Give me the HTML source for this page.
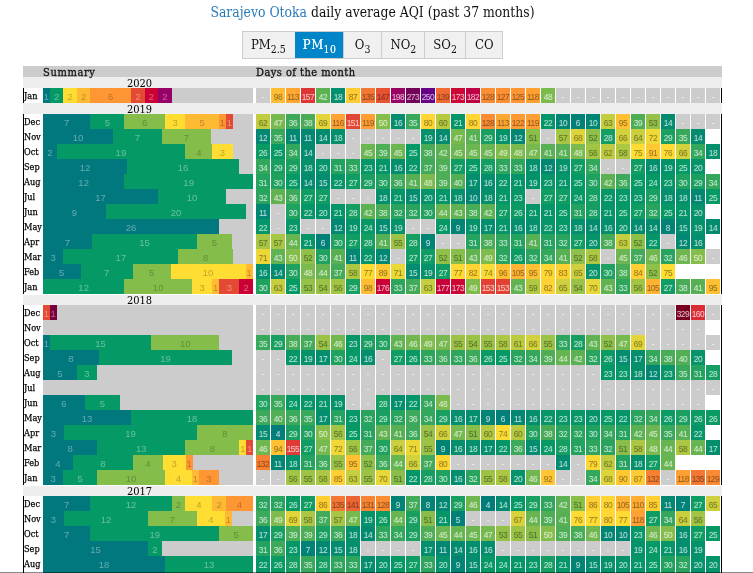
<!DOCTYPE html>
<html><head><meta charset="utf-8"><title>Sarajevo Otoka daily average AQI</title>
<style>
html,body{margin:0;padding:0;background:#fff;}
body{width:753px;height:573px;position:relative;overflow:hidden;font-family:"Liberation Sans",sans-serif;}
#t{position:absolute;left:0;top:2px;width:745.5px;text-align:center;font:14px/20px "DejaVu Serif","Liberation Serif",serif;color:#111;white-space:nowrap}
#t span{display:inline-block;transform:scaleX(.888);transform-origin:50% 50%}
#t a{color:#2a7ab8;text-decoration:none}
#tabs{position:absolute;left:242px;top:31px;height:26px;border:1px solid #ccc;border-left:none;display:flex;}
#tabs div{box-sizing:border-box;height:26px;border-left:1px solid #ccc;background:#f0f0f0;font:13px/25px "DejaVu Serif","Liberation Serif",serif;color:#111;text-align:center;white-space:nowrap}
#tabs div.on{background:#0086c8;border-left-color:#0086c8;color:#fff;letter-spacing:.5px;text-shadow:0 0 .6px rgba(255,255,255,.7)}
#tabs span{display:inline-block;transform:scaleX(.9);transform-origin:50% 50%}
#tabs sub{font-size:10.4px;line-height:0;vertical-align:-3.7px}
.hd{z-index:2;position:absolute;left:23px;top:66px;width:699px;height:11px;background:#ccc;}
.hd b{position:absolute;top:0;font:normal 11px/13px "DejaVu Serif","Liberation Serif",serif;letter-spacing:.5px;-webkit-text-stroke:.3px #111;color:#111;white-space:nowrap;transform:scaleX(.9);transform-origin:0 50%}
.yb{position:absolute;left:23px;width:699px;background:#eee;}
.yl{position:absolute;left:23.5px;width:231px;text-align:center;font:11px/11px "DejaVu Serif","Liberation Serif",serif;color:#000;transform:scaleX(.9);transform-origin:50% 50%}
.r{position:absolute;left:23px;width:699px;height:15px;}
.r i{position:absolute;left:0;top:0;width:1px;height:15px;background:#000}
.r u{position:absolute;left:698px;top:0;width:1px;height:15px;background:#000}
.r em{position:absolute;left:0.8px;top:0;font:normal 9.1px/17px "DejaVu Serif","Liberation Serif",serif;color:#000;-webkit-text-stroke:0.25px #000;transform:scaleX(.9);transform-origin:0 50%}
.s{position:absolute;left:20px;top:0;width:210px;height:15px;background:#ccc;overflow:hidden}
.s b{position:absolute;top:0;height:15px;font:normal 9.5px/18.6px "Liberation Sans",sans-serif;text-align:center;color:rgba(255,255,255,.38);overflow:hidden}
.s b.k{color:rgba(0,0,0,.27)}
.c{position:absolute;top:0;width:13.8px;height:15px;font:normal 8.4px/19.4px "Liberation Sans",sans-serif;text-align:center;color:rgba(255,255,255,.5);text-shadow:0 0 .7px rgba(255,255,255,.45);letter-spacing:-0.55px;overflow:hidden;white-space:nowrap}
.c.k{color:rgba(0,0,0,.27);text-shadow:0 0 .7px rgba(0,0,0,.24)}
.c.n{background:#ccc;color:rgba(255,255,255,.6)}
#bl{position:absolute;left:0;top:572px;width:753px;height:1px;background:rgba(0,0,0,.46);z-index:3}
.r.z,.r.z i,.r.z u,.r.z .s,.r.z .s b,.r.z .c{height:17px}
</style></head><body>
<div id="t"><span><a>Sarajevo Otoka</a> daily average AQI (past 37 months)</span></div>
<div id="tabs"><div style="width:52.5px"><span>PM<sub>2.5</sub></span></div><div class="on" style="width:48.3px"><span>PM<sub>10</sub></span></div><div style="width:38.7px"><span>O<sub>3</sub></span></div><div style="width:43px"><span>NO<sub>2</sub></span></div><div style="width:40.4px"><span>SO<sub>2</sub></span></div><div style="width:37.1px"><span>CO</span></div></div>
<div class="hd"><b style="left:20.2px;letter-spacing:.7px">Summary</b><b style="left:233px">Days of the month</b></div>

<div class="yb" style="top:77px;height:11px"></div><div class="yl" style="top:77.9px">2020</div>
<div class="r" style="top:88px"><i></i><u></u><em>Jan</em><div class="s"><b style="left:0.00px;width:6.77px;background:#00787e">1</b><b style="left:6.77px;width:13.55px;background:#059a65">2</b><b class="k" style="left:20.32px;width:13.55px;background:#ffdd33">2</b><b class="k" style="left:33.87px;width:13.55px;background:#ffba33">2</b><b class="k" style="left:47.42px;width:40.65px;background:#fe9633">6</b><b style="left:88.06px;width:13.55px;background:#e44933">2</b><b style="left:101.61px;width:13.55px;background:#ca0035">2</b><b style="left:115.16px;width:13.55px;background:#970068">2</b></div><div class="c n" style="left:233px">-</div><div class="c k" style="left:248px;background:#ffbd33">98</div><div class="c k" style="left:263px;background:#fea733">113</div><div class="c" style="left:278px;background:#dd3534">157</div><div class="c" style="left:293px;background:#5cb253">42</div><div class="c" style="left:308px;background:#04906c">18</div><div class="c k" style="left:323px;background:#ffcc33">87</div><div class="c k" style="left:338px;background:#f47733">135</div><div class="c k" style="left:353px;background:#e75233">147</div><div class="c" style="left:368px;background:#9b0064">198</div><div class="c" style="left:383px;background:#710058">273</div><div class="c" style="left:398px;background:#660085">250</div><div class="c k" style="left:413px;background:#ef6b33">139</div><div class="c" style="left:428px;background:#cc0635">173</div><div class="c" style="left:443px;background:#bc0043">182</div><div class="c k" style="left:458px;background:#fb8d33">128</div><div class="c k" style="left:473px;background:#fc9033">127</div><div class="c k" style="left:488px;background:#fe9633">125</div><div class="c k" style="left:503px;background:#fea033">118</div><div class="c" style="left:518px;background:#7bba4d">48</div><div class="c n" style="left:533px">-</div><div class="c n" style="left:548px">-</div><div class="c n" style="left:563px">-</div><div class="c n" style="left:578px">-</div><div class="c n" style="left:593px">-</div><div class="c n" style="left:608px">-</div><div class="c n" style="left:623px">-</div><div class="c n" style="left:638px">-</div><div class="c n" style="left:653px">-</div><div class="c n" style="left:668px">-</div><div class="c n" style="left:683px">-</div></div>
<div class="yb" style="top:103px;height:11px"></div><div class="yl" style="top:103.9px">2019</div>
<div class="r" style="top:114px"><i></i><u></u><em>Dec</em><div class="s"><b style="left:0.00px;width:47.42px;background:#00787e">7</b><b style="left:47.42px;width:33.87px;background:#059a65">5</b><b class="k" style="left:81.29px;width:40.65px;background:#85bd4b">6</b><b class="k" style="left:121.94px;width:20.32px;background:#ffdd33">3</b><b class="k" style="left:142.26px;width:33.87px;background:#ffba33">5</b><b class="k" style="left:176.13px;width:6.77px;background:#fe9633">1</b><b style="left:182.90px;width:6.77px;background:#e44933">1</b></div><div class="c k" style="left:233px;background:#c0cc3f">62</div><div class="c" style="left:248px;background:#76b94e">47</div><div class="c" style="left:263px;background:#3da95a">36</div><div class="c" style="left:278px;background:#48ac57">38</div><div class="c k" style="left:293px;background:#e2d539">69</div><div class="c k" style="left:308px;background:#fea333">116</div><div class="c" style="left:323px;background:#e34633">151</div><div class="c k" style="left:338px;background:#fe9f33">119</div><div class="c" style="left:353px;background:#85bd4b">50</div><div class="c" style="left:368px;background:#038e6e">16</div><div class="c" style="left:383px;background:#38a85b">35</div><div class="c k" style="left:398px;background:#ffd633">80</div><div class="c k" style="left:413px;background:#b6ca41">60</div><div class="c" style="left:428px;background:#049569">21</div><div class="c k" style="left:443px;background:#ffd633">80</div><div class="c k" style="left:458px;background:#fb8d33">128</div><div class="c k" style="left:473px;background:#fea733">113</div><div class="c k" style="left:488px;background:#fe9a33">122</div><div class="c k" style="left:503px;background:#fe9f33">119</div><div class="c" style="left:518px;background:#049668">22</div><div class="c" style="left:533px;background:#028674">10</div><div class="c" style="left:548px;background:#018078">6</div><div class="c" style="left:563px;background:#028674">10</div><div class="c k" style="left:578px;background:#c4ce3f">63</div><div class="c k" style="left:593px;background:#ffc133">95</div><div class="c" style="left:608px;background:#4dae56">39</div><div class="c k" style="left:623px;background:#94c148">53</div><div class="c" style="left:638px;background:#038b70">14</div><div class="c n" style="left:653px">-</div><div class="c n" style="left:668px">-</div><div class="c n" style="left:683px">-</div></div>
<div class="r" style="top:129px"><i></i><u></u><em>Nov</em><div class="s"><b style="left:0.00px;width:70.00px;background:#00787e">10</b><b style="left:70.00px;width:49.00px;background:#059a65">7</b><b class="k" style="left:119.00px;width:49.00px;background:#85bd4b">7</b></div><div class="c" style="left:233px;background:#028872">12</div><div class="c" style="left:248px;background:#38a85b">35</div><div class="c" style="left:263px;background:#028773">11</div><div class="c" style="left:278px;background:#028773">11</div><div class="c" style="left:293px;background:#038b70">14</div><div class="c" style="left:308px;background:#04906c">18</div><div class="c n" style="left:323px">-</div><div class="c n" style="left:338px">-</div><div class="c n" style="left:353px">-</div><div class="c n" style="left:368px">-</div><div class="c n" style="left:383px">-</div><div class="c" style="left:398px;background:#04926b">19</div><div class="c" style="left:413px;background:#038b70">14</div><div class="c" style="left:428px;background:#76b94e">47</div><div class="c" style="left:443px;background:#57b054">41</div><div class="c" style="left:458px;background:#19a061">29</div><div class="c" style="left:473px;background:#04926b">19</div><div class="c" style="left:488px;background:#028872">12</div><div class="c k" style="left:503px;background:#8abe4a">51</div><div class="c n" style="left:518px">-</div><div class="c k" style="left:533px;background:#a7c644">57</div><div class="c k" style="left:548px;background:#ddd43a">68</div><div class="c k" style="left:563px;background:#8fc049">52</div><div class="c" style="left:578px;background:#149e62">28</div><div class="c k" style="left:593px;background:#d3d13c">66</div><div class="c k" style="left:608px;background:#c9cf3e">64</div><div class="c k" style="left:623px;background:#f0d936">72</div><div class="c" style="left:638px;background:#19a061">29</div><div class="c" style="left:653px;background:#38a85b">35</div><div class="c" style="left:668px;background:#038b70">14</div></div>
<div class="r" style="top:144px"><i></i><u></u><em>Oct</em><div class="s"><b style="left:0.00px;width:13.55px;background:#00787e">2</b><b style="left:13.55px;width:128.71px;background:#059a65">19</b><b class="k" style="left:142.26px;width:27.10px;background:#85bd4b">4</b><b class="k" style="left:169.35px;width:20.32px;background:#ffdd33">3</b></div><div class="c" style="left:233px;background:#0a9b64">26</div><div class="c" style="left:248px;background:#059a65">25</div><div class="c" style="left:263px;background:#33a75c">34</div><div class="c" style="left:278px;background:#038b70">14</div><div class="c n" style="left:293px">-</div><div class="c n" style="left:308px">-</div><div class="c n" style="left:323px">-</div><div class="c" style="left:338px;background:#6bb650">45</div><div class="c" style="left:353px;background:#4dae56">39</div><div class="c" style="left:368px;background:#6bb650">45</div><div class="c" style="left:383px;background:#059a65">25</div><div class="c" style="left:398px;background:#48ac57">38</div><div class="c" style="left:413px;background:#5cb253">42</div><div class="c" style="left:428px;background:#6bb650">45</div><div class="c" style="left:443px;background:#6bb650">45</div><div class="c" style="left:458px;background:#6bb650">45</div><div class="c" style="left:473px;background:#80bc4c">49</div><div class="c" style="left:488px;background:#7bba4d">48</div><div class="c" style="left:503px;background:#76b94e">47</div><div class="c" style="left:518px;background:#57b054">41</div><div class="c" style="left:533px;background:#57b054">41</div><div class="c" style="left:548px;background:#7bba4d">48</div><div class="c k" style="left:563px;background:#a2c545">56</div><div class="c k" style="left:578px;background:#c0cc3f">62</div><div class="c k" style="left:593px;background:#acc743">58</div><div class="c k" style="left:608px;background:#ffdd33">75</div><div class="c k" style="left:623px;background:#ffc733">91</div><div class="c k" style="left:638px;background:#ffdc33">76</div><div class="c k" style="left:653px;background:#d3d13c">66</div><div class="c" style="left:668px;background:#33a75c">34</div><div class="c" style="left:683px;background:#04906c">18</div></div>
<div class="r" style="top:159px"><i></i><u></u><em>Sep</em><div class="s"><b style="left:0.00px;width:84.00px;background:#00787e">12</b><b style="left:84.00px;width:112.00px;background:#059a65">16</b></div><div class="c" style="left:233px;background:#33a75c">34</div><div class="c" style="left:248px;background:#19a061">29</div><div class="c" style="left:263px;background:#19a061">29</div><div class="c" style="left:278px;background:#04906c">18</div><div class="c" style="left:293px;background:#04936a">20</div><div class="c" style="left:308px;background:#24a25f">31</div><div class="c" style="left:323px;background:#2ea55d">33</div><div class="c" style="left:338px;background:#059767">23</div><div class="c" style="left:353px;background:#049569">21</div><div class="c" style="left:368px;background:#038e6e">16</div><div class="c" style="left:383px;background:#049668">22</div><div class="c" style="left:398px;background:#42ab59">37</div><div class="c" style="left:413px;background:#4dae56">39</div><div class="c" style="left:428px;background:#0f9d63">27</div><div class="c" style="left:443px;background:#059a65">25</div><div class="c" style="left:458px;background:#149e62">28</div><div class="c" style="left:473px;background:#2ea55d">33</div><div class="c" style="left:488px;background:#2ea55d">33</div><div class="c" style="left:503px;background:#04906c">18</div><div class="c" style="left:518px;background:#028872">12</div><div class="c" style="left:533px;background:#04926b">19</div><div class="c" style="left:548px;background:#0f9d63">27</div><div class="c" style="left:563px;background:#33a75c">34</div><div class="c n" style="left:578px">-</div><div class="c n" style="left:593px">-</div><div class="c" style="left:608px;background:#0f9d63">27</div><div class="c" style="left:623px;background:#038e6e">16</div><div class="c" style="left:638px;background:#04926b">19</div><div class="c" style="left:653px;background:#059a65">25</div><div class="c" style="left:668px;background:#04936a">20</div></div>
<div class="r" style="top:174px"><i></i><u></u><em>Aug</em><div class="s"><b style="left:0.00px;width:81.29px;background:#00787e">12</b><b style="left:81.29px;width:128.71px;background:#059a65">19</b></div><div class="c" style="left:233px;background:#24a25f">31</div><div class="c" style="left:248px;background:#1fa160">30</div><div class="c" style="left:263px;background:#059a65">25</div><div class="c" style="left:278px;background:#038b70">14</div><div class="c" style="left:293px;background:#038c6f">15</div><div class="c" style="left:308px;background:#049668">22</div><div class="c" style="left:323px;background:#0f9d63">27</div><div class="c" style="left:338px;background:#19a061">29</div><div class="c" style="left:353px;background:#1fa160">30</div><div class="c" style="left:368px;background:#3da95a">36</div><div class="c" style="left:383px;background:#57b054">41</div><div class="c" style="left:398px;background:#7bba4d">48</div><div class="c" style="left:413px;background:#4dae56">39</div><div class="c" style="left:428px;background:#52af55">40</div><div class="c" style="left:443px;background:#038f6d">17</div><div class="c" style="left:458px;background:#038e6e">16</div><div class="c" style="left:473px;background:#049668">22</div><div class="c" style="left:488px;background:#049569">21</div><div class="c" style="left:503px;background:#04926b">19</div><div class="c" style="left:518px;background:#059767">23</div><div class="c" style="left:533px;background:#049569">21</div><div class="c" style="left:548px;background:#059a65">25</div><div class="c" style="left:563px;background:#1fa160">30</div><div class="c" style="left:578px;background:#5cb253">42</div><div class="c" style="left:593px;background:#3da95a">36</div><div class="c" style="left:608px;background:#059a65">25</div><div class="c" style="left:623px;background:#059966">24</div><div class="c" style="left:638px;background:#059767">23</div><div class="c" style="left:653px;background:#1fa160">30</div><div class="c" style="left:668px;background:#19a061">29</div><div class="c" style="left:683px;background:#33a75c">34</div></div>
<div class="r" style="top:189px"><i></i><u></u><em>Jul</em><div class="s"><b style="left:0.00px;width:115.16px;background:#00787e">17</b><b style="left:115.16px;width:67.74px;background:#059a65">10</b></div><div class="c" style="left:233px;background:#29a45e">32</div><div class="c" style="left:248px;background:#61b352">43</div><div class="c" style="left:263px;background:#3da95a">36</div><div class="c" style="left:278px;background:#0f9d63">27</div><div class="c" style="left:293px;background:#0f9d63">27</div><div class="c n" style="left:308px">-</div><div class="c n" style="left:323px">-</div><div class="c n" style="left:338px">-</div><div class="c" style="left:353px;background:#04906c">18</div><div class="c" style="left:368px;background:#049569">21</div><div class="c" style="left:383px;background:#038c6f">15</div><div class="c" style="left:398px;background:#04936a">20</div><div class="c" style="left:413px;background:#049569">21</div><div class="c" style="left:428px;background:#04906c">18</div><div class="c" style="left:443px;background:#028674">10</div><div class="c" style="left:458px;background:#04906c">18</div><div class="c" style="left:473px;background:#049569">21</div><div class="c" style="left:488px;background:#059767">23</div><div class="c n" style="left:503px">-</div><div class="c" style="left:518px;background:#0f9d63">27</div><div class="c" style="left:533px;background:#0f9d63">27</div><div class="c" style="left:548px;background:#059966">24</div><div class="c" style="left:563px;background:#149e62">28</div><div class="c" style="left:578px;background:#049668">22</div><div class="c" style="left:593px;background:#059767">23</div><div class="c" style="left:608px;background:#059767">23</div><div class="c" style="left:623px;background:#19a061">29</div><div class="c" style="left:638px;background:#04906c">18</div><div class="c" style="left:653px;background:#04906c">18</div><div class="c" style="left:668px;background:#028773">11</div><div class="c" style="left:683px;background:#059a65">25</div></div>
<div class="r" style="top:204px"><i></i><u></u><em>Jun</em><div class="s"><b style="left:0.00px;width:63.00px;background:#00787e">9</b><b style="left:63.00px;width:140.00px;background:#059a65">20</b></div><div class="c" style="left:233px;background:#028773">11</div><div class="c n" style="left:248px">-</div><div class="c" style="left:263px;background:#1fa160">30</div><div class="c" style="left:278px;background:#049668">22</div><div class="c" style="left:293px;background:#04936a">20</div><div class="c" style="left:308px;background:#049569">21</div><div class="c" style="left:323px;background:#149e62">28</div><div class="c" style="left:338px;background:#5cb253">42</div><div class="c" style="left:353px;background:#48ac57">38</div><div class="c" style="left:368px;background:#29a45e">32</div><div class="c" style="left:383px;background:#29a45e">32</div><div class="c" style="left:398px;background:#1fa160">30</div><div class="c" style="left:413px;background:#66b551">44</div><div class="c" style="left:428px;background:#61b352">43</div><div class="c" style="left:443px;background:#48ac57">38</div><div class="c" style="left:458px;background:#5cb253">42</div><div class="c" style="left:473px;background:#0f9d63">27</div><div class="c" style="left:488px;background:#0a9b64">26</div><div class="c" style="left:503px;background:#049569">21</div><div class="c" style="left:518px;background:#049569">21</div><div class="c" style="left:533px;background:#059a65">25</div><div class="c" style="left:548px;background:#24a25f">31</div><div class="c" style="left:563px;background:#149e62">28</div><div class="c" style="left:578px;background:#049569">21</div><div class="c" style="left:593px;background:#059a65">25</div><div class="c" style="left:608px;background:#0f9d63">27</div><div class="c" style="left:623px;background:#29a45e">32</div><div class="c" style="left:638px;background:#059a65">25</div><div class="c" style="left:653px;background:#049569">21</div><div class="c" style="left:668px;background:#04936a">20</div></div>
<div class="r" style="top:219px"><i></i><u></u><em>May</em><div class="s"><b style="left:0.00px;width:176.13px;background:#00787e">26</b></div><div class="c" style="left:233px;background:#049668">22</div><div class="c n" style="left:248px">-</div><div class="c" style="left:263px;background:#059767">23</div><div class="c n" style="left:278px">-</div><div class="c n" style="left:293px">-</div><div class="c" style="left:308px;background:#028872">12</div><div class="c" style="left:323px;background:#04926b">19</div><div class="c" style="left:338px;background:#059966">24</div><div class="c" style="left:353px;background:#038c6f">15</div><div class="c" style="left:368px;background:#04926b">19</div><div class="c n" style="left:383px">-</div><div class="c n" style="left:398px">-</div><div class="c" style="left:413px;background:#059966">24</div><div class="c" style="left:428px;background:#028475">9</div><div class="c" style="left:443px;background:#04926b">19</div><div class="c" style="left:458px;background:#038f6d">17</div><div class="c" style="left:473px;background:#049569">21</div><div class="c" style="left:488px;background:#038e6e">16</div><div class="c" style="left:503px;background:#04906c">18</div><div class="c" style="left:518px;background:#049668">22</div><div class="c" style="left:533px;background:#059767">23</div><div class="c" style="left:548px;background:#04906c">18</div><div class="c" style="left:563px;background:#038b70">14</div><div class="c" style="left:578px;background:#038e6e">16</div><div class="c" style="left:593px;background:#04936a">20</div><div class="c" style="left:608px;background:#038b70">14</div><div class="c" style="left:623px;background:#038b70">14</div><div class="c" style="left:638px;background:#028376">8</div><div class="c" style="left:653px;background:#038c6f">15</div><div class="c" style="left:668px;background:#04926b">19</div><div class="c" style="left:683px;background:#038b70">14</div></div>
<div class="r" style="top:234px"><i></i><u></u><em>Apr</em><div class="s"><b style="left:0.00px;width:49.00px;background:#00787e">7</b><b style="left:49.00px;width:105.00px;background:#059a65">15</b><b class="k" style="left:154.00px;width:35.00px;background:#85bd4b">5</b></div><div class="c k" style="left:233px;background:#a7c644">57</div><div class="c k" style="left:248px;background:#a7c644">57</div><div class="c" style="left:263px;background:#66b551">44</div><div class="c" style="left:278px;background:#049569">21</div><div class="c" style="left:293px;background:#018078">6</div><div class="c" style="left:308px;background:#1fa160">30</div><div class="c" style="left:323px;background:#0f9d63">27</div><div class="c" style="left:338px;background:#149e62">28</div><div class="c" style="left:353px;background:#57b054">41</div><div class="c k" style="left:368px;background:#9dc346">55</div><div class="c" style="left:383px;background:#149e62">28</div><div class="c" style="left:398px;background:#028475">9</div><div class="c n" style="left:413px">-</div><div class="c n" style="left:428px">-</div><div class="c" style="left:443px;background:#24a25f">31</div><div class="c" style="left:458px;background:#48ac57">38</div><div class="c" style="left:473px;background:#2ea55d">33</div><div class="c" style="left:488px;background:#24a25f">31</div><div class="c" style="left:503px;background:#57b054">41</div><div class="c" style="left:518px;background:#24a25f">31</div><div class="c" style="left:533px;background:#29a45e">32</div><div class="c" style="left:548px;background:#0f9d63">27</div><div class="c" style="left:563px;background:#04936a">20</div><div class="c" style="left:578px;background:#48ac57">38</div><div class="c k" style="left:593px;background:#c4ce3f">63</div><div class="c k" style="left:608px;background:#8fc049">52</div><div class="c" style="left:623px;background:#049668">22</div><div class="c n" style="left:638px">-</div><div class="c" style="left:653px;background:#028872">12</div><div class="c" style="left:668px;background:#038e6e">16</div></div>
<div class="r" style="top:249px"><i></i><u></u><em>Mar</em><div class="s"><b style="left:0.00px;width:20.32px;background:#00787e">3</b><b style="left:20.32px;width:115.16px;background:#059a65">17</b><b class="k" style="left:135.48px;width:54.19px;background:#85bd4b">8</b></div><div class="c k" style="left:233px;background:#ebd837">71</div><div class="c" style="left:248px;background:#61b352">43</div><div class="c" style="left:263px;background:#85bd4b">50</div><div class="c k" style="left:278px;background:#8fc049">52</div><div class="c" style="left:293px;background:#1fa160">30</div><div class="c" style="left:308px;background:#57b054">41</div><div class="c" style="left:323px;background:#028773">11</div><div class="c" style="left:338px;background:#049668">22</div><div class="c" style="left:353px;background:#028872">12</div><div class="c n" style="left:368px">-</div><div class="c" style="left:383px;background:#0f9d63">27</div><div class="c" style="left:398px;background:#0f9d63">27</div><div class="c k" style="left:413px;background:#8fc049">52</div><div class="c k" style="left:428px;background:#8abe4a">51</div><div class="c" style="left:443px;background:#61b352">43</div><div class="c" style="left:458px;background:#80bc4c">49</div><div class="c" style="left:473px;background:#29a45e">32</div><div class="c" style="left:488px;background:#0a9b64">26</div><div class="c" style="left:503px;background:#29a45e">32</div><div class="c" style="left:518px;background:#33a75c">34</div><div class="c" style="left:533px;background:#57b054">41</div><div class="c k" style="left:548px;background:#8fc049">52</div><div class="c k" style="left:563px;background:#acc743">58</div><div class="c n" style="left:578px">-</div><div class="c" style="left:593px;background:#6bb650">45</div><div class="c" style="left:608px;background:#42ab59">37</div><div class="c" style="left:623px;background:#71b74f">46</div><div class="c" style="left:638px;background:#29a45e">32</div><div class="c" style="left:653px;background:#71b74f">46</div><div class="c" style="left:668px;background:#85bd4b">50</div><div class="c n" style="left:683px">-</div></div>
<div class="r" style="top:264px"><i></i><u></u><em>Feb</em><div class="s"><b style="left:0.00px;width:37.50px;background:#00787e">5</b><b style="left:37.50px;width:52.50px;background:#059a65">7</b><b class="k" style="left:90.00px;width:37.50px;background:#85bd4b">5</b><b class="k" style="left:127.50px;width:75.00px;background:#ffdd33">10</b><b class="k" style="left:202.50px;width:7.50px;background:#ffba33">1</b></div><div class="c" style="left:233px;background:#038e6e">16</div><div class="c" style="left:248px;background:#038b70">14</div><div class="c" style="left:263px;background:#1fa160">30</div><div class="c" style="left:278px;background:#7bba4d">48</div><div class="c" style="left:293px;background:#66b551">44</div><div class="c" style="left:308px;background:#42ab59">37</div><div class="c k" style="left:323px;background:#acc743">58</div><div class="c k" style="left:338px;background:#ffda33">77</div><div class="c k" style="left:353px;background:#ffc933">89</div><div class="c k" style="left:368px;background:#ebd837">71</div><div class="c" style="left:383px;background:#038c6f">15</div><div class="c" style="left:398px;background:#04926b">19</div><div class="c" style="left:413px;background:#0f9d63">27</div><div class="c k" style="left:428px;background:#ffda33">77</div><div class="c k" style="left:443px;background:#ffd333">82</div><div class="c k" style="left:458px;background:#fadc34">74</div><div class="c k" style="left:473px;background:#ffc033">96</div><div class="c k" style="left:488px;background:#ffb333">105</div><div class="c k" style="left:503px;background:#ffc133">95</div><div class="c k" style="left:518px;background:#ffd733">79</div><div class="c k" style="left:533px;background:#ffd233">83</div><div class="c k" style="left:548px;background:#ced03d">65</div><div class="c" style="left:563px;background:#04936a">20</div><div class="c" style="left:578px;background:#1fa160">30</div><div class="c" style="left:593px;background:#48ac57">38</div><div class="c k" style="left:608px;background:#ffd033">84</div><div class="c k" style="left:623px;background:#8fc049">52</div><div class="c k" style="left:638px;background:#ffdd33">75</div></div>
<div class="r" style="top:279px"><i></i><u></u><em>Jan</em><div class="s"><b style="left:0.00px;width:81.29px;background:#059a65">12</b><b class="k" style="left:81.29px;width:67.74px;background:#85bd4b">10</b><b class="k" style="left:149.03px;width:20.32px;background:#ffdd33">3</b><b class="k" style="left:169.35px;width:6.77px;background:#ffba33">1</b><b style="left:176.13px;width:20.32px;background:#e44933">3</b><b style="left:196.45px;width:13.55px;background:#ca0035">2</b></div><div class="c" style="left:233px;background:#1fa160">30</div><div class="c k" style="left:248px;background:#c4ce3f">63</div><div class="c" style="left:263px;background:#059a65">25</div><div class="c k" style="left:278px;background:#94c148">53</div><div class="c k" style="left:293px;background:#99c247">54</div><div class="c k" style="left:308px;background:#a2c545">56</div><div class="c" style="left:323px;background:#19a061">29</div><div class="c k" style="left:338px;background:#ffbd33">98</div><div class="c" style="left:353px;background:#c80037">176</div><div class="c" style="left:368px;background:#2ea55d">33</div><div class="c" style="left:383px;background:#42ab59">37</div><div class="c k" style="left:398px;background:#c4ce3f">63</div><div class="c" style="left:413px;background:#c60039">177</div><div class="c" style="left:428px;background:#cc0635">173</div><div class="c" style="left:443px;background:#80bc4c">49</div><div class="c" style="left:458px;background:#e14033">153</div><div class="c" style="left:473px;background:#e14033">153</div><div class="c" style="left:488px;background:#61b352">43</div><div class="c k" style="left:503px;background:#b1c942">59</div><div class="c k" style="left:518px;background:#ffd333">82</div><div class="c k" style="left:533px;background:#ced03d">65</div><div class="c k" style="left:548px;background:#99c247">54</div><div class="c k" style="left:563px;background:#e7d738">70</div><div class="c" style="left:578px;background:#61b352">43</div><div class="c" style="left:593px;background:#2ea55d">33</div><div class="c k" style="left:608px;background:#a2c545">56</div><div class="c k" style="left:623px;background:#ffb333">105</div><div class="c" style="left:638px;background:#0f9d63">27</div><div class="c" style="left:653px;background:#48ac57">38</div><div class="c" style="left:668px;background:#57b054">41</div><div class="c k" style="left:683px;background:#ffc133">95</div></div>
<div class="yb" style="top:294.8px;height:9.9px"></div><div class="yl" style="top:294.9px">2018</div>
<div class="r" style="top:305px"><i></i><u></u><em>Dec</em><div class="s"><b style="left:0.00px;width:6.77px;background:#e44933">1</b><b style="left:6.77px;width:6.77px;background:#78003f">1</b></div><div class="c n" style="left:233px">-</div><div class="c n" style="left:248px">-</div><div class="c n" style="left:263px">-</div><div class="c n" style="left:278px">-</div><div class="c n" style="left:293px">-</div><div class="c n" style="left:308px">-</div><div class="c n" style="left:323px">-</div><div class="c n" style="left:338px">-</div><div class="c n" style="left:353px">-</div><div class="c n" style="left:368px">-</div><div class="c n" style="left:383px">-</div><div class="c n" style="left:398px">-</div><div class="c n" style="left:413px">-</div><div class="c n" style="left:428px">-</div><div class="c n" style="left:443px">-</div><div class="c n" style="left:458px">-</div><div class="c n" style="left:473px">-</div><div class="c n" style="left:488px">-</div><div class="c n" style="left:503px">-</div><div class="c n" style="left:518px">-</div><div class="c n" style="left:533px">-</div><div class="c n" style="left:548px">-</div><div class="c n" style="left:563px">-</div><div class="c n" style="left:578px">-</div><div class="c n" style="left:593px">-</div><div class="c n" style="left:608px">-</div><div class="c n" style="left:623px">-</div><div class="c n" style="left:638px">-</div><div class="c" style="left:653px;background:#780021">329</div><div class="c" style="left:668px;background:#da2c34">160</div><div class="c n" style="left:683px">-</div></div>
<div class="r" style="top:320px"><i></i><u></u><em>Nov</em><div class="s"></div><div class="c n" style="left:233px">-</div><div class="c n" style="left:248px">-</div><div class="c n" style="left:263px">-</div><div class="c n" style="left:278px">-</div><div class="c n" style="left:293px">-</div><div class="c n" style="left:308px">-</div><div class="c n" style="left:323px">-</div><div class="c n" style="left:338px">-</div><div class="c n" style="left:353px">-</div><div class="c n" style="left:368px">-</div><div class="c n" style="left:383px">-</div><div class="c n" style="left:398px">-</div><div class="c n" style="left:413px">-</div><div class="c n" style="left:428px">-</div><div class="c n" style="left:443px">-</div><div class="c n" style="left:458px">-</div><div class="c n" style="left:473px">-</div><div class="c n" style="left:488px">-</div><div class="c n" style="left:503px">-</div><div class="c n" style="left:518px">-</div><div class="c n" style="left:533px">-</div><div class="c n" style="left:548px">-</div><div class="c n" style="left:563px">-</div><div class="c n" style="left:578px">-</div><div class="c n" style="left:593px">-</div><div class="c n" style="left:608px">-</div><div class="c n" style="left:623px">-</div><div class="c n" style="left:638px">-</div><div class="c n" style="left:653px">-</div><div class="c n" style="left:668px">-</div></div>
<div class="r" style="top:335px"><i></i><u></u><em>Oct</em><div class="s"><b style="left:0.00px;width:6.77px;background:#00787e">1</b><b style="left:6.77px;width:101.61px;background:#059a65">15</b><b class="k" style="left:108.39px;width:67.74px;background:#85bd4b">10</b></div><div class="c" style="left:233px;background:#38a85b">35</div><div class="c" style="left:248px;background:#19a061">29</div><div class="c" style="left:263px;background:#48ac57">38</div><div class="c" style="left:278px;background:#42ab59">37</div><div class="c k" style="left:293px;background:#99c247">54</div><div class="c" style="left:308px;background:#71b74f">46</div><div class="c" style="left:323px;background:#059767">23</div><div class="c" style="left:338px;background:#19a061">29</div><div class="c" style="left:353px;background:#1fa160">30</div><div class="c" style="left:368px;background:#61b352">43</div><div class="c" style="left:383px;background:#71b74f">46</div><div class="c" style="left:398px;background:#80bc4c">49</div><div class="c" style="left:413px;background:#76b94e">47</div><div class="c k" style="left:428px;background:#9dc346">55</div><div class="c k" style="left:443px;background:#99c247">54</div><div class="c k" style="left:458px;background:#9dc346">55</div><div class="c k" style="left:473px;background:#acc743">58</div><div class="c k" style="left:488px;background:#bbcb40">61</div><div class="c k" style="left:503px;background:#d3d13c">66</div><div class="c k" style="left:518px;background:#9dc346">55</div><div class="c" style="left:533px;background:#2ea55d">33</div><div class="c" style="left:548px;background:#149e62">28</div><div class="c" style="left:563px;background:#61b352">43</div><div class="c k" style="left:578px;background:#8fc049">52</div><div class="c" style="left:593px;background:#76b94e">47</div><div class="c k" style="left:608px;background:#e2d539">69</div><div class="c n" style="left:623px">-</div><div class="c n" style="left:638px">-</div><div class="c n" style="left:653px">-</div><div class="c n" style="left:668px">-</div><div class="c n" style="left:683px">-</div></div>
<div class="r" style="top:350px"><i></i><u></u><em>Sep</em><div class="s"><b style="left:0.00px;width:56.00px;background:#00787e">8</b><b style="left:56.00px;width:133.00px;background:#059a65">19</b></div><div class="c n" style="left:233px">-</div><div class="c n" style="left:248px">-</div><div class="c" style="left:263px;background:#049668">22</div><div class="c" style="left:278px;background:#04926b">19</div><div class="c" style="left:293px;background:#038f6d">17</div><div class="c" style="left:308px;background:#1fa160">30</div><div class="c" style="left:323px;background:#059966">24</div><div class="c" style="left:338px;background:#038e6e">16</div><div class="c n" style="left:353px">-</div><div class="c" style="left:368px;background:#0f9d63">27</div><div class="c" style="left:383px;background:#0a9b64">26</div><div class="c" style="left:398px;background:#2ea55d">33</div><div class="c" style="left:413px;background:#3da95a">36</div><div class="c" style="left:428px;background:#2ea55d">33</div><div class="c" style="left:443px;background:#3da95a">36</div><div class="c" style="left:458px;background:#0a9b64">26</div><div class="c" style="left:473px;background:#059a65">25</div><div class="c" style="left:488px;background:#29a45e">32</div><div class="c" style="left:503px;background:#33a75c">34</div><div class="c" style="left:518px;background:#4dae56">39</div><div class="c" style="left:533px;background:#66b551">44</div><div class="c" style="left:548px;background:#5cb253">42</div><div class="c" style="left:563px;background:#29a45e">32</div><div class="c" style="left:578px;background:#0a9b64">26</div><div class="c" style="left:593px;background:#038c6f">15</div><div class="c" style="left:608px;background:#038f6d">17</div><div class="c" style="left:623px;background:#33a75c">34</div><div class="c" style="left:638px;background:#48ac57">38</div><div class="c" style="left:653px;background:#52af55">40</div><div class="c" style="left:668px;background:#04936a">20</div></div>
<div class="r" style="top:365px"><i></i><u></u><em>Aug</em><div class="s"><b style="left:0.00px;width:33.87px;background:#00787e">5</b><b style="left:33.87px;width:20.32px;background:#059a65">3</b></div><div class="c n" style="left:233px">-</div><div class="c n" style="left:248px">-</div><div class="c n" style="left:263px">-</div><div class="c n" style="left:278px">-</div><div class="c n" style="left:293px">-</div><div class="c n" style="left:308px">-</div><div class="c n" style="left:323px">-</div><div class="c n" style="left:338px">-</div><div class="c n" style="left:353px">-</div><div class="c n" style="left:368px">-</div><div class="c n" style="left:383px">-</div><div class="c n" style="left:398px">-</div><div class="c n" style="left:413px">-</div><div class="c n" style="left:428px">-</div><div class="c n" style="left:443px">-</div><div class="c n" style="left:458px">-</div><div class="c n" style="left:473px">-</div><div class="c n" style="left:488px">-</div><div class="c n" style="left:503px">-</div><div class="c n" style="left:518px">-</div><div class="c n" style="left:533px">-</div><div class="c n" style="left:548px">-</div><div class="c n" style="left:563px">-</div><div class="c" style="left:578px;background:#059767">23</div><div class="c" style="left:593px;background:#059767">23</div><div class="c" style="left:608px;background:#04906c">18</div><div class="c" style="left:623px;background:#028872">12</div><div class="c" style="left:638px;background:#059767">23</div><div class="c" style="left:653px;background:#38a85b">35</div><div class="c" style="left:668px;background:#24a25f">31</div><div class="c" style="left:683px;background:#149e62">28</div></div>
<div class="r" style="top:380px"><i></i><u></u><em>Jul</em><div class="s"></div><div class="c n" style="left:233px">-</div><div class="c n" style="left:248px">-</div><div class="c n" style="left:263px">-</div><div class="c n" style="left:278px">-</div><div class="c n" style="left:293px">-</div><div class="c n" style="left:308px">-</div><div class="c n" style="left:323px">-</div><div class="c n" style="left:338px">-</div><div class="c n" style="left:353px">-</div><div class="c n" style="left:368px">-</div><div class="c n" style="left:383px">-</div><div class="c n" style="left:398px">-</div><div class="c n" style="left:413px">-</div><div class="c n" style="left:428px">-</div><div class="c n" style="left:443px">-</div><div class="c n" style="left:458px">-</div><div class="c n" style="left:473px">-</div><div class="c n" style="left:488px">-</div><div class="c n" style="left:503px">-</div><div class="c n" style="left:518px">-</div><div class="c n" style="left:533px">-</div><div class="c n" style="left:548px">-</div><div class="c n" style="left:563px">-</div><div class="c n" style="left:578px">-</div><div class="c n" style="left:593px">-</div><div class="c n" style="left:608px">-</div><div class="c n" style="left:623px">-</div><div class="c n" style="left:638px">-</div><div class="c n" style="left:653px">-</div><div class="c n" style="left:668px">-</div><div class="c n" style="left:683px">-</div></div>
<div class="r" style="top:395px"><i></i><u></u><em>Jun</em><div class="s"><b style="left:0.00px;width:42.00px;background:#00787e">6</b><b style="left:42.00px;width:35.00px;background:#059a65">5</b></div><div class="c" style="left:233px;background:#1fa160">30</div><div class="c" style="left:248px;background:#38a85b">35</div><div class="c" style="left:263px;background:#059966">24</div><div class="c" style="left:278px;background:#049668">22</div><div class="c" style="left:293px;background:#049569">21</div><div class="c" style="left:308px;background:#04926b">19</div><div class="c n" style="left:323px">-</div><div class="c n" style="left:338px">-</div><div class="c" style="left:353px;background:#149e62">28</div><div class="c" style="left:368px;background:#038f6d">17</div><div class="c" style="left:383px;background:#049668">22</div><div class="c" style="left:398px;background:#33a75c">34</div><div class="c" style="left:413px;background:#7bba4d">48</div><div class="c n" style="left:428px">-</div><div class="c n" style="left:443px">-</div><div class="c n" style="left:458px">-</div><div class="c n" style="left:473px">-</div><div class="c n" style="left:488px">-</div><div class="c n" style="left:503px">-</div><div class="c n" style="left:518px">-</div><div class="c n" style="left:533px">-</div><div class="c n" style="left:548px">-</div><div class="c n" style="left:563px">-</div><div class="c n" style="left:578px">-</div><div class="c n" style="left:593px">-</div><div class="c n" style="left:608px">-</div><div class="c n" style="left:623px">-</div><div class="c n" style="left:638px">-</div><div class="c n" style="left:653px">-</div><div class="c n" style="left:668px">-</div></div>
<div class="r" style="top:410px"><i></i><u></u><em>May</em><div class="s"><b style="left:0.00px;width:88.06px;background:#00787e">13</b><b style="left:88.06px;width:121.94px;background:#059a65">18</b></div><div class="c" style="left:233px;background:#3da95a">36</div><div class="c" style="left:248px;background:#52af55">40</div><div class="c" style="left:263px;background:#3da95a">36</div><div class="c" style="left:278px;background:#38a85b">35</div><div class="c" style="left:293px;background:#038f6d">17</div><div class="c" style="left:308px;background:#24a25f">31</div><div class="c" style="left:323px;background:#059767">23</div><div class="c" style="left:338px;background:#29a45e">32</div><div class="c" style="left:353px;background:#19a061">29</div><div class="c" style="left:368px;background:#29a45e">32</div><div class="c" style="left:383px;background:#3da95a">36</div><div class="c" style="left:398px;background:#33a75c">34</div><div class="c" style="left:413px;background:#19a061">29</div><div class="c" style="left:428px;background:#038e6e">16</div><div class="c" style="left:443px;background:#038f6d">17</div><div class="c" style="left:458px;background:#028475">9</div><div class="c" style="left:473px;background:#018078">6</div><div class="c" style="left:488px;background:#028773">11</div><div class="c" style="left:503px;background:#038e6e">16</div><div class="c" style="left:518px;background:#049668">22</div><div class="c" style="left:533px;background:#059767">23</div><div class="c" style="left:548px;background:#059767">23</div><div class="c" style="left:563px;background:#04936a">20</div><div class="c" style="left:578px;background:#059a65">25</div><div class="c" style="left:593px;background:#049668">22</div><div class="c" style="left:608px;background:#29a45e">32</div><div class="c" style="left:623px;background:#33a75c">34</div><div class="c" style="left:638px;background:#0a9b64">26</div><div class="c" style="left:653px;background:#19a061">29</div><div class="c" style="left:668px;background:#0a9b64">26</div><div class="c" style="left:683px;background:#0a9b64">26</div></div>
<div class="r" style="top:425px"><i></i><u></u><em>Apr</em><div class="s"><b style="left:0.00px;width:21.00px;background:#00787e">3</b><b style="left:21.00px;width:133.00px;background:#059a65">19</b><b class="k" style="left:154.00px;width:56.00px;background:#85bd4b">8</b></div><div class="c" style="left:233px;background:#038c6f">15</div><div class="c" style="left:248px;background:#017d7a">4</div><div class="c" style="left:263px;background:#19a061">29</div><div class="c" style="left:278px;background:#1fa160">30</div><div class="c" style="left:293px;background:#85bd4b">50</div><div class="c k" style="left:308px;background:#a2c545">56</div><div class="c" style="left:323px;background:#059a65">25</div><div class="c" style="left:338px;background:#24a25f">31</div><div class="c" style="left:353px;background:#61b352">43</div><div class="c" style="left:368px;background:#57b054">41</div><div class="c" style="left:383px;background:#3da95a">36</div><div class="c k" style="left:398px;background:#99c247">54</div><div class="c k" style="left:413px;background:#d3d13c">66</div><div class="c" style="left:428px;background:#76b94e">47</div><div class="c k" style="left:443px;background:#8abe4a">51</div><div class="c k" style="left:458px;background:#b6ca41">60</div><div class="c k" style="left:473px;background:#fadc34">74</div><div class="c k" style="left:488px;background:#b6ca41">60</div><div class="c" style="left:503px;background:#1fa160">30</div><div class="c" style="left:518px;background:#48ac57">38</div><div class="c" style="left:533px;background:#29a45e">32</div><div class="c" style="left:548px;background:#29a45e">32</div><div class="c" style="left:563px;background:#1fa160">30</div><div class="c" style="left:578px;background:#33a75c">34</div><div class="c" style="left:593px;background:#24a25f">31</div><div class="c" style="left:608px;background:#5cb253">42</div><div class="c" style="left:623px;background:#6bb650">45</div><div class="c" style="left:638px;background:#38a85b">35</div><div class="c" style="left:653px;background:#57b054">41</div><div class="c" style="left:668px;background:#049668">22</div></div>
<div class="r" style="top:440px"><i></i><u></u><em>Mar</em><div class="s"><b style="left:0.00px;width:54.19px;background:#00787e">8</b><b style="left:54.19px;width:88.06px;background:#059a65">13</b><b class="k" style="left:142.26px;width:54.19px;background:#85bd4b">8</b><b class="k" style="left:196.45px;width:6.77px;background:#ffdd33">1</b><b style="left:203.23px;width:6.77px;background:#e44933">1</b></div><div class="c" style="left:233px;background:#71b74f">46</div><div class="c k" style="left:248px;background:#ffc233">94</div><div class="c" style="left:263px;background:#df3a33">155</div><div class="c" style="left:278px;background:#0f9d63">27</div><div class="c" style="left:293px;background:#76b94e">47</div><div class="c k" style="left:308px;background:#f0d936">72</div><div class="c k" style="left:323px;background:#a2c545">56</div><div class="c" style="left:338px;background:#42ab59">37</div><div class="c" style="left:353px;background:#1fa160">30</div><div class="c k" style="left:368px;background:#c9cf3e">64</div><div class="c k" style="left:383px;background:#ebd837">71</div><div class="c k" style="left:398px;background:#9dc346">55</div><div class="c" style="left:413px;background:#028475">9</div><div class="c" style="left:428px;background:#038e6e">16</div><div class="c" style="left:443px;background:#04906c">18</div><div class="c" style="left:458px;background:#038f6d">17</div><div class="c" style="left:473px;background:#049668">22</div><div class="c" style="left:488px;background:#3da95a">36</div><div class="c" style="left:503px;background:#038c6f">15</div><div class="c" style="left:518px;background:#059966">24</div><div class="c" style="left:533px;background:#149e62">28</div><div class="c" style="left:548px;background:#24a25f">31</div><div class="c" style="left:563px;background:#2ea55d">33</div><div class="c" style="left:578px;background:#29a45e">32</div><div class="c k" style="left:593px;background:#8abe4a">51</div><div class="c k" style="left:608px;background:#acc743">58</div><div class="c" style="left:623px;background:#7bba4d">48</div><div class="c" style="left:638px;background:#66b551">44</div><div class="c k" style="left:653px;background:#acc743">58</div><div class="c" style="left:668px;background:#66b551">44</div><div class="c" style="left:683px;background:#038f6d">17</div></div>
<div class="r" style="top:455px"><i></i><u></u><em>Feb</em><div class="s"><b style="left:0.00px;width:30.00px;background:#00787e">4</b><b style="left:30.00px;width:60.00px;background:#059a65">8</b><b class="k" style="left:90.00px;width:30.00px;background:#85bd4b">4</b><b class="k" style="left:120.00px;width:22.50px;background:#ffdd33">3</b><b class="k" style="left:142.50px;width:7.50px;background:#fe9633">1</b></div><div class="c k" style="left:233px;background:#f78033">132</div><div class="c" style="left:248px;background:#028773">11</div><div class="c" style="left:263px;background:#04906c">18</div><div class="c" style="left:278px;background:#24a25f">31</div><div class="c" style="left:293px;background:#3da95a">36</div><div class="c k" style="left:308px;background:#9dc346">55</div><div class="c k" style="left:323px;background:#ffc133">95</div><div class="c k" style="left:338px;background:#8fc049">52</div><div class="c" style="left:353px;background:#3da95a">36</div><div class="c" style="left:368px;background:#66b551">44</div><div class="c k" style="left:383px;background:#d3d13c">66</div><div class="c" style="left:398px;background:#42ab59">37</div><div class="c k" style="left:413px;background:#ffd633">80</div><div class="c n" style="left:428px">-</div><div class="c n" style="left:443px">-</div><div class="c n" style="left:458px">-</div><div class="c n" style="left:473px">-</div><div class="c n" style="left:488px">-</div><div class="c n" style="left:503px">-</div><div class="c n" style="left:518px">-</div><div class="c" style="left:533px;background:#038b70">14</div><div class="c n" style="left:548px">-</div><div class="c k" style="left:563px;background:#ffd733">79</div><div class="c k" style="left:578px;background:#c0cc3f">62</div><div class="c" style="left:593px;background:#24a25f">31</div><div class="c" style="left:608px;background:#04906c">18</div><div class="c" style="left:623px;background:#0f9d63">27</div><div class="c" style="left:638px;background:#66b551">44</div></div>
<div class="r" style="top:470px"><i></i><u></u><em>Jan</em><div class="s"><b style="left:0.00px;width:20.32px;background:#00787e">3</b><b style="left:20.32px;width:33.87px;background:#059a65">5</b><b class="k" style="left:54.19px;width:67.74px;background:#85bd4b">10</b><b class="k" style="left:121.94px;width:27.10px;background:#ffdd33">4</b><b class="k" style="left:149.03px;width:6.77px;background:#ffba33">1</b><b class="k" style="left:155.81px;width:20.32px;background:#fe9633">3</b></div><div class="c n" style="left:233px">-</div><div class="c n" style="left:248px">-</div><div class="c k" style="left:263px;background:#a2c545">56</div><div class="c k" style="left:278px;background:#9dc346">55</div><div class="c k" style="left:293px;background:#acc743">58</div><div class="c k" style="left:308px;background:#ffcf33">85</div><div class="c k" style="left:323px;background:#c4ce3f">63</div><div class="c k" style="left:338px;background:#9dc346">55</div><div class="c k" style="left:353px;background:#e7d738">70</div><div class="c k" style="left:368px;background:#8abe4a">51</div><div class="c" style="left:383px;background:#049668">22</div><div class="c" style="left:398px;background:#149e62">28</div><div class="c" style="left:413px;background:#1fa160">30</div><div class="c" style="left:428px;background:#038e6e">16</div><div class="c" style="left:443px;background:#29a45e">32</div><div class="c k" style="left:458px;background:#9dc346">55</div><div class="c k" style="left:473px;background:#acc743">58</div><div class="c" style="left:488px;background:#04936a">20</div><div class="c" style="left:503px;background:#71b74f">46</div><div class="c k" style="left:518px;background:#ffc533">92</div><div class="c n" style="left:533px">-</div><div class="c n" style="left:548px">-</div><div class="c" style="left:563px;background:#33a75c">34</div><div class="c k" style="left:578px;background:#ddd43a">68</div><div class="c k" style="left:593px;background:#ffc833">90</div><div class="c k" style="left:608px;background:#ffcc33">87</div><div class="c k" style="left:623px;background:#f78033">132</div><div class="c n" style="left:638px">-</div><div class="c k" style="left:653px;background:#fea033">118</div><div class="c k" style="left:668px;background:#f47733">135</div><div class="c k" style="left:683px;background:#fa8a33">129</div></div>
<div class="yb" style="top:485.8px;height:10px"></div><div class="yl" style="top:485.9px">2017</div>
<div class="r" style="top:496px"><i></i><u></u><em>Dec</em><div class="s"><b style="left:0.00px;width:47.42px;background:#00787e">7</b><b style="left:47.42px;width:81.29px;background:#059a65">12</b><b class="k" style="left:128.71px;width:13.55px;background:#85bd4b">2</b><b class="k" style="left:142.26px;width:27.10px;background:#ffdd33">4</b><b class="k" style="left:169.35px;width:13.55px;background:#ffba33">2</b><b class="k" style="left:182.90px;width:27.10px;background:#fe9633">4</b></div><div class="c" style="left:233px;background:#29a45e">32</div><div class="c" style="left:248px;background:#29a45e">32</div><div class="c" style="left:263px;background:#0a9b64">26</div><div class="c" style="left:278px;background:#0f9d63">27</div><div class="c k" style="left:293px;background:#ffce33">86</div><div class="c k" style="left:308px;background:#f47733">135</div><div class="c k" style="left:323px;background:#ed6533">141</div><div class="c k" style="left:338px;background:#f88433">131</div><div class="c k" style="left:353px;background:#fb8d33">128</div><div class="c" style="left:368px;background:#028475">9</div><div class="c" style="left:383px;background:#42ab59">37</div><div class="c" style="left:398px;background:#028376">8</div><div class="c" style="left:413px;background:#028872">12</div><div class="c" style="left:428px;background:#19a061">29</div><div class="c" style="left:443px;background:#71b74f">46</div><div class="c" style="left:458px;background:#017d7a">4</div><div class="c" style="left:473px;background:#038b70">14</div><div class="c" style="left:488px;background:#059a65">25</div><div class="c" style="left:503px;background:#19a061">29</div><div class="c" style="left:518px;background:#2ea55d">33</div><div class="c" style="left:533px;background:#5cb253">42</div><div class="c k" style="left:548px;background:#8abe4a">51</div><div class="c k" style="left:563px;background:#ffce33">86</div><div class="c k" style="left:578px;background:#ffd633">80</div><div class="c k" style="left:593px;background:#ffb333">105</div><div class="c k" style="left:608px;background:#ffac33">110</div><div class="c k" style="left:623px;background:#ffcf33">85</div><div class="c" style="left:638px;background:#028773">11</div><div class="c" style="left:653px;background:#018277">7</div><div class="c" style="left:668px;background:#0f9d63">27</div><div class="c k" style="left:683px;background:#ced03d">65</div></div>
<div class="r" style="top:511px"><i></i><u></u><em>Nov</em><div class="s"><b style="left:0.00px;width:21.00px;background:#00787e">3</b><b style="left:21.00px;width:84.00px;background:#059a65">12</b><b class="k" style="left:105.00px;width:49.00px;background:#85bd4b">7</b><b class="k" style="left:154.00px;width:28.00px;background:#ffdd33">4</b><b class="k" style="left:182.00px;width:7.00px;background:#ffba33">1</b></div><div class="c" style="left:233px;background:#3da95a">36</div><div class="c" style="left:248px;background:#80bc4c">49</div><div class="c k" style="left:263px;background:#e2d539">69</div><div class="c k" style="left:278px;background:#acc743">58</div><div class="c" style="left:293px;background:#42ab59">37</div><div class="c k" style="left:308px;background:#a7c644">57</div><div class="c" style="left:323px;background:#76b94e">47</div><div class="c" style="left:338px;background:#04926b">19</div><div class="c" style="left:353px;background:#0a9b64">26</div><div class="c" style="left:368px;background:#66b551">44</div><div class="c" style="left:383px;background:#19a061">29</div><div class="c k" style="left:398px;background:#8abe4a">51</div><div class="c" style="left:413px;background:#049569">21</div><div class="c" style="left:428px;background:#017f79">5</div><div class="c n" style="left:443px">-</div><div class="c n" style="left:458px">-</div><div class="c n" style="left:473px">-</div><div class="c k" style="left:488px;background:#d8d33b">67</div><div class="c" style="left:503px;background:#66b551">44</div><div class="c" style="left:518px;background:#4dae56">39</div><div class="c" style="left:533px;background:#57b054">41</div><div class="c k" style="left:548px;background:#ffdc33">76</div><div class="c k" style="left:563px;background:#ffda33">77</div><div class="c k" style="left:578px;background:#ffd633">80</div><div class="c k" style="left:593px;background:#ffda33">77</div><div class="c k" style="left:608px;background:#fea033">118</div><div class="c" style="left:623px;background:#0f9d63">27</div><div class="c" style="left:638px;background:#33a75c">34</div><div class="c k" style="left:653px;background:#c9cf3e">64</div><div class="c k" style="left:668px;background:#a2c545">56</div></div>
<div class="r" style="top:526px"><i></i><u></u><em>Oct</em><div class="s"><b style="left:0.00px;width:47.42px;background:#00787e">7</b><b style="left:47.42px;width:128.71px;background:#059a65">19</b><b class="k" style="left:176.13px;width:33.87px;background:#85bd4b">5</b></div><div class="c" style="left:233px;background:#038f6d">17</div><div class="c" style="left:248px;background:#19a061">29</div><div class="c" style="left:263px;background:#4dae56">39</div><div class="c" style="left:278px;background:#4dae56">39</div><div class="c" style="left:293px;background:#19a061">29</div><div class="c" style="left:308px;background:#3da95a">36</div><div class="c" style="left:323px;background:#04906c">18</div><div class="c" style="left:338px;background:#038b70">14</div><div class="c" style="left:353px;background:#2ea55d">33</div><div class="c" style="left:368px;background:#33a75c">34</div><div class="c" style="left:383px;background:#19a061">29</div><div class="c" style="left:398px;background:#4dae56">39</div><div class="c" style="left:413px;background:#6bb650">45</div><div class="c" style="left:428px;background:#66b551">44</div><div class="c" style="left:443px;background:#6bb650">45</div><div class="c" style="left:458px;background:#76b94e">47</div><div class="c k" style="left:473px;background:#94c148">53</div><div class="c k" style="left:488px;background:#9dc346">55</div><div class="c k" style="left:503px;background:#8abe4a">51</div><div class="c" style="left:518px;background:#85bd4b">50</div><div class="c" style="left:533px;background:#4dae56">39</div><div class="c" style="left:548px;background:#48ac57">38</div><div class="c" style="left:563px;background:#71b74f">46</div><div class="c" style="left:578px;background:#028674">10</div><div class="c" style="left:593px;background:#028674">10</div><div class="c" style="left:608px;background:#059767">23</div><div class="c" style="left:623px;background:#71b74f">46</div><div class="c" style="left:638px;background:#85bd4b">50</div><div class="c" style="left:653px;background:#038e6e">16</div><div class="c" style="left:668px;background:#0f9d63">27</div><div class="c" style="left:683px;background:#059a65">25</div></div>
<div class="r" style="top:541px"><i></i><u></u><em>Sep</em><div class="s"><b style="left:0.00px;width:105.00px;background:#00787e">15</b><b style="left:105.00px;width:14.00px;background:#059a65">2</b></div><div class="c" style="left:233px;background:#24a25f">31</div><div class="c" style="left:248px;background:#3da95a">36</div><div class="c" style="left:263px;background:#059767">23</div><div class="c" style="left:278px;background:#018277">7</div><div class="c" style="left:293px;background:#028872">12</div><div class="c" style="left:308px;background:#038c6f">15</div><div class="c" style="left:323px;background:#04906c">18</div><div class="c n" style="left:338px">-</div><div class="c n" style="left:353px">-</div><div class="c n" style="left:368px">-</div><div class="c n" style="left:383px">-</div><div class="c" style="left:398px;background:#038f6d">17</div><div class="c" style="left:413px;background:#028773">11</div><div class="c" style="left:428px;background:#038b70">14</div><div class="c" style="left:443px;background:#038e6e">16</div><div class="c" style="left:458px;background:#038e6e">16</div><div class="c n" style="left:473px">-</div><div class="c n" style="left:488px">-</div><div class="c n" style="left:503px">-</div><div class="c n" style="left:518px">-</div><div class="c n" style="left:533px">-</div><div class="c n" style="left:548px">-</div><div class="c n" style="left:563px">-</div><div class="c n" style="left:578px">-</div><div class="c n" style="left:593px">-</div><div class="c" style="left:608px;background:#04926b">19</div><div class="c" style="left:623px;background:#059966">24</div><div class="c" style="left:638px;background:#049569">21</div><div class="c" style="left:653px;background:#038e6e">16</div><div class="c" style="left:668px;background:#04926b">19</div></div>
<div class="r z" style="top:556px"><i></i><u></u><em>Aug</em><div class="s"><b style="left:0.00px;width:121.94px;background:#00787e">18</b><b style="left:121.94px;width:88.06px;background:#059a65">13</b></div><div class="c" style="left:233px;background:#049668">22</div><div class="c" style="left:248px;background:#0a9b64">26</div><div class="c" style="left:263px;background:#149e62">28</div><div class="c" style="left:278px;background:#38a85b">35</div><div class="c" style="left:293px;background:#149e62">28</div><div class="c" style="left:308px;background:#2ea55d">33</div><div class="c" style="left:323px;background:#2ea55d">33</div><div class="c" style="left:338px;background:#038f6d">17</div><div class="c" style="left:353px;background:#04936a">20</div><div class="c" style="left:368px;background:#059a65">25</div><div class="c" style="left:383px;background:#0f9d63">27</div><div class="c" style="left:398px;background:#2ea55d">33</div><div class="c" style="left:413px;background:#04936a">20</div><div class="c" style="left:428px;background:#028475">9</div><div class="c" style="left:443px;background:#038c6f">15</div><div class="c" style="left:458px;background:#059966">24</div><div class="c" style="left:473px;background:#059966">24</div><div class="c" style="left:488px;background:#049569">21</div><div class="c" style="left:503px;background:#059767">23</div><div class="c" style="left:518px;background:#149e62">28</div><div class="c" style="left:533px;background:#049569">21</div><div class="c" style="left:548px;background:#028475">9</div><div class="c" style="left:563px;background:#038c6f">15</div><div class="c" style="left:578px;background:#04926b">19</div><div class="c" style="left:593px;background:#04936a">20</div><div class="c" style="left:608px;background:#049569">21</div><div class="c" style="left:623px;background:#059a65">25</div><div class="c" style="left:638px;background:#1fa160">30</div><div class="c" style="left:653px;background:#29a45e">32</div><div class="c" style="left:668px;background:#04936a">20</div><div class="c" style="left:683px;background:#04936a">20</div></div>
<div id="bl"></div>
</body></html>
